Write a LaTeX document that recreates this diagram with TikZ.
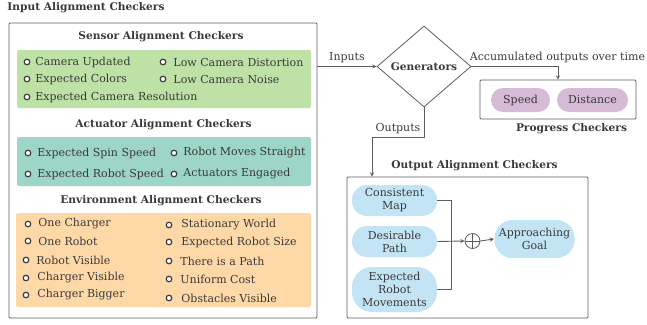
\documentclass[tikz,border=0pt]{standalone}
\usepackage{fontspec}
\setmainfont{DejaVu Serif}
\usetikzlibrary{shapes.geometric}

\definecolor{sensorgreen}{HTML}{BEE2A6}
\definecolor{actuatorteal}{HTML}{9DD6C8}
\definecolor{envorange}{HTML}{FFD8A8}
\definecolor{progpurple}{HTML}{D6BAD6}
\definecolor{outblue}{HTML}{C2E4F5}
\definecolor{inkgray}{HTML}{3A3A3A}
\definecolor{linegray}{HTML}{5E5E5E}

\begin{document}
\begin{tikzpicture}
            [x=1pt, y=-1pt, >=stealth, line width=0.9pt, draw=linegray, text=inkgray,
             font=\fontsize{11}{13}\selectfont, every node/.style={inner sep=0pt},
             heading/.style={font=\fontsize{10.6}{12}\selectfont\bfseries},
             item/.style={anchor=west},
             dot/.style={shape=circle, draw=inkgray, fill=white, line width=1.2pt, minimum size=5.6pt},
             group/.style={draw=none, rounded corners=2pt, minimum width=294pt},
             frame/.style={shape=rectangle, draw=linegray, rounded corners=1pt, line width=0.8pt},
             pill/.style={shape=rectangle, rounded corners=12pt, align=center, minimum width=85pt}]
            \useasboundingbox (0,0) rectangle (647,324);

            % input side
            \node[heading] (intitle) at (86, 8) {Input Alignment Checkers};
            \node[frame, minimum width=308pt, minimum height=295pt] (inbox) at (163, 170.5) {};

            \node[heading] (sentitle) at (161, 37) {Sensor Alignment Checkers};
            \node[group, fill=sensorgreen, minimum height=58pt] (senbox) at (164, 79) {};
            \node[dot] (s1b) at (27, 62) {};
            \node[item] (s1) at (35, 62) {Camera Updated};
            \node[dot] (s2b) at (27, 79) {};
            \node[item] (s2) at (35, 79) {Expected Colors};
            \node[dot] (s3b) at (27, 97) {};
            \node[item] (s3) at (35, 97) {Expected Camera Resolution};
            \node[dot] (s4b) at (163, 62) {};
            \node[item] (s4) at (173, 62) {Low Camera Distortion};
            \node[dot] (s5b) at (163, 79) {};
            \node[item] (s5) at (173, 79) {Low Camera Noise};

            \node[heading] (acttitle) at (163.5, 125) {Actuator Alignment Checkers};
            \node[group, fill=actuatorteal, minimum height=49pt] (actbox) at (164, 161.5) {};
            \node[dot] (a1b) at (28, 153) {};
            \node[item] (a1) at (37, 153) {Expected Spin Speed};
            \node[dot] (a2b) at (28, 174) {};
            \node[item] (a2) at (37, 174) {Expected Robot Speed};
            \node[dot] (a3b) at (174, 153) {};
            \node[item] (a3) at (183, 153) {Robot Moves Straight};
            \node[dot] (a4b) at (174, 174) {};
            \node[item] (a4) at (183, 174) {Actuators Engaged};

            \node[heading] (envtitle) at (161, 201) {Environment Alignment Checkers};
            \node[group, fill=envorange, minimum width=295pt, minimum height=94pt] (envbox) at (163.5, 260) {};
            \node[dot] (e1b) at (28, 224) {};
            \node[item] (e1) at (38, 224) {One Charger};
            \node[dot] (e2b) at (28, 241) {};
            \node[item] (e2) at (38, 241) {One Robot};
            \node[dot] (e3b) at (26, 260) {};
            \node[item] (e3) at (36, 260) {Robot Visible};
            \node[dot] (e4b) at (26, 278) {};
            \node[item] (e4) at (37, 278) {Charger Visible};
            \node[dot] (e5b) at (26, 295) {};
            \node[item] (e5) at (37, 295) {Charger Bigger};
            \node[dot] (e6b) at (169, 225) {};
            \node[item] (e6) at (181, 225) {Stationary World};
            \node[dot] (e7b) at (169, 242) {};
            \node[item] (e7) at (181, 242) {Expected Robot Size};
            \node[dot] (e8b) at (169, 261) {};
            \node[item] (e8) at (180, 261) {There is a Path};
            \node[dot] (e9b) at (169, 279) {};
            \node[item] (e9) at (180, 279) {Uniform Cost};
            \node[dot] (e10b) at (169, 298) {};
            \node[item] (e10) at (181, 298) {Obstacles Visible};

            % generators and progress
            \node[shape=diamond, draw=linegray, line width=0.8pt, heading, minimum width=94pt, minimum height=81pt] (gen) at (424, 66.5) {Generators};
            \node[frame, minimum width=156pt, minimum height=39pt] (progbox) at (558, 99.5) {};
            \node[pill, fill=progpurple, minimum width=59pt, minimum height=24pt] (speed) at (520.5, 100) {Speed};
            \node[pill, fill=progpurple, minimum width=71pt, minimum height=24pt] (dist) at (592.5, 100) {Distance};
            \node[heading] (progtitle) at (571.5, 129) {Progress Checkers};

            % output side
            \node[heading] (outtitle) at (474.5, 166) {Output Alignment Checkers};
            \node[frame, minimum width=241pt, minimum height=141pt] (outbox) at (467.5, 247.5) {};
            \node[pill, fill=outblue, minimum height=31pt, rounded corners=15pt] (cmap) at (394.5, 200.5) {Consistent\\Map};
            \node[pill, fill=outblue, minimum height=31pt, rounded corners=15pt] (dpath) at (394.5, 241.5) {Desirable\\Path};
            \node[pill, fill=outblue, minimum height=45pt, rounded corners=20pt] (moves) at (394.5, 289.5) {Expected\\Robot\\Movements};
            \node[pill, fill=outblue, minimum width=80pt, minimum height=38pt, rounded corners=18pt] (goal) at (534.5, 239) {Approaching\\Goal};
            \node[shape=circle, draw=linegray, line width=0.8pt, minimum size=15pt] (plus) at (472.5, 241) {};
            \draw[linegray, line width=0.8pt] (plus.north) -- (plus.south) (plus.west) -- (plus.east);
            \coordinate (join) at (451, 241);

            \path [->] (gen.west -| inbox.east) edge node[above, yshift=3pt] {Inputs} (gen.west);
            \draw [->] (gen.east) -| node[pos=0, anchor=south west, xshift=-2pt, yshift=3pt] {Accumulated outputs over time} (progbox.north);
            \coordinate (bend) at (372, 137);
            \draw [->] (gen.south) |- node[pos=0.75, above, yshift=3pt] {Outputs} (bend) -- (bend |- outbox.north);
            \draw (cmap.east) -| (join);
            \draw (moves.east) -| (join);
            \draw [->] (dpath.east) -- (plus.west);
            \draw [->] (plus.east) -- (goal.west);
        \end{tikzpicture}
\end{document}
